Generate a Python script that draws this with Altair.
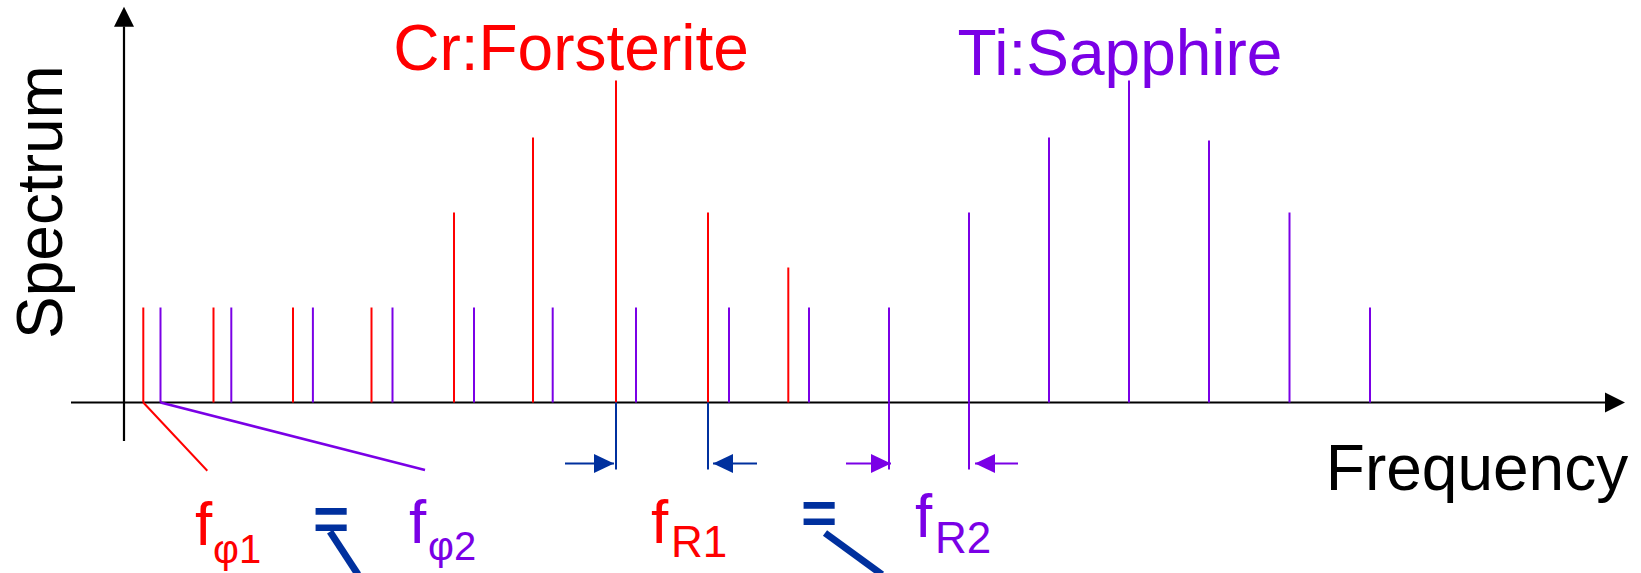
import altair as alt
import pandas as pd

RED = "#ff0000"
PURPLE = "#7a00e6"
BLUE = "#00309e"
BLACK = "#000000"
FONT = "Liberation Sans"

# ---- spectral comb lines (frequency position, line height) ----
cr_freq = [143.3, 213.5, 293.0, 371.5, 454.0, 533.0, 616.0, 708.0, 788.3]
cr_amp = [95, 95, 95, 95, 190, 265, 322, 190, 135]
ti_freq = [160.5, 231.3, 312.9, 392.5, 474.0, 552.7, 636.0, 729.0, 809.0,
           889.0, 969.0, 1049.0, 1129.0, 1209.0, 1289.5, 1370.0]
ti_amp = [95, 95, 95, 95, 95, 95, 95, 95, 95, 95, 190, 265, 322, 262, 190, 95]

# ---- markers below the axis (repetition-rate spacing) ----
marker_freq = [616.0, 708.0, 889.0, 969.0]
marker_color = [BLUE, BLUE, PURPLE, PURPLE]
marker_depth = -67

# ---- spacing arrows ----
arrow_start = [565.0, 757.0, 846.0, 1018.0]
arrow_tip = [614.0, 713.0, 891.0, 975.0]
arrow_dir = [1, -1, 1, -1]
arrow_color = [BLUE, BLUE, PURPLE, PURPLE]
arrow_level = -61

# ---- offset-frequency leader lines ----
leader_x = [143.3, 160.5]
leader_x2 = [207.3, 425.0]
leader_y2 = [-68.2, -67.5]
leader_color = [RED, PURPLE]
leader_width = [2.0, 2.5]

# ---- slash strokes under the equal signs ----
slash_x = [330.0, 825.0]
slash_x2 = [358.0, 882.0]
slash_y = [-129.2, -130.5]
slash_y2 = [-172.0, -172.0]

# ---- axes ----
x_axis = {"start": 71.0, "end": 1606.0, "head": 1615.0}
y_axis = {"pos": 124.0, "bottom": -38.5, "top": 376.0, "head": 385.8}

# ---- text labels ----
label_text = ["Cr:Forsterite", "Ti:Sapphire", "Frequency", "Spectrum",
              "f", "φ1", "f", "φ2", "f", "R1", "f", "R2", "=", "="]
label_x = [571, 1120, 1477, 62, 195, 213, 409, 428, 651, 671, 915, 935, 331, 819]
label_y = [332.5, 327.5, -87.5, 200.5, -142.5, -160.5, -140.5, -157.5,
           -140.5, -154.5, -134.5, -150.5, -137.5, -131.5]
label_color = [RED, PURPLE, BLACK, BLACK, RED, RED, PURPLE, PURPLE, RED, RED,
               PURPLE, PURPLE, BLUE, BLUE]
label_size = [64, 64, 64, 64, 62, 40, 62, 40, 62, 44, 62, 44, 62, 62]
label_align = ["center", "center", "center", "center", "left", "left", "left",
               "left", "left", "left", "left", "left", "center", "center"]
label_angle = [0, 0, 0, 270, 0, 0, 0, 0, 0, 0, 0, 0, 0, 0]
label_weight = ["normal"] * 12 + ["bold", "bold"]

XS = alt.Scale(domain=[0, 1641], nice=False, zero=False)
YS = alt.Scale(domain=[-170.5, 402.5], nice=False, zero=False)


def X(f="x"):
    return alt.X(f"{f}:Q", scale=XS, axis=None)


def Y(f="y"):
    return alt.Y(f"{f}:Q", scale=YS, axis=None)


layers = []

# axes lines
axes_df = pd.DataFrame({
    "x": [x_axis["start"], y_axis["pos"]],
    "x2": [x_axis["end"], y_axis["pos"]],
    "y": [0.0, y_axis["bottom"]],
    "y2": [0.0, y_axis["top"]],
})
layers.append(alt.Chart(axes_df).mark_rule(color=BLACK, strokeWidth=2.2).encode(
    x=X(), x2="x2:Q", y=Y(), y2="y2:Q"))

heads_df = pd.DataFrame({"x": [x_axis["head"], y_axis["pos"]], "y": [0.0, y_axis["head"]],
                         "s": ["right", "up"]})
layers.append(alt.Chart(heads_df[heads_df.s == "right"]).mark_point(
    shape="M1,0L-1,-1L-1,1Z", size=400, filled=True, color=BLACK, opacity=1, strokeWidth=0
).encode(x=X(), y=Y()))
layers.append(alt.Chart(heads_df[heads_df.s == "up"]).mark_point(
    shape="M0,-1L-1,1L1,1Z", size=400, filled=True, color=BLACK, opacity=1, strokeWidth=0
).encode(x=X(), y=Y()))

# comb lines
cr_df = pd.DataFrame({"x": cr_freq, "y": [0.0] * len(cr_freq), "y2": cr_amp})
ti_df = pd.DataFrame({"x": ti_freq, "y": [0.0] * len(ti_freq), "y2": ti_amp})
layers.append(alt.Chart(cr_df).mark_rule(color=RED, strokeWidth=2).encode(
    x=X(), y=Y(), y2="y2:Q"))
layers.append(alt.Chart(ti_df).mark_rule(color=PURPLE, strokeWidth=2).encode(
    x=X(), y=Y(), y2="y2:Q"))

# markers below axis
mk_df = pd.DataFrame({"x": marker_freq, "y": [0.0] * 4, "y2": [marker_depth] * 4,
                      "c": marker_color})
layers.append(alt.Chart(mk_df).mark_rule(strokeWidth=2).encode(
    x=X(), y=Y(), y2="y2:Q", color=alt.Color("c:N", scale=None)))

# arrows
ar_df = pd.DataFrame({"x": arrow_start, "x2": arrow_tip, "d": arrow_dir, "c": arrow_color})
ar_df["y"] = arrow_level
ar_df["hx"] = ar_df["x2"] - 10 * ar_df["d"]
layers.append(alt.Chart(ar_df).mark_rule(strokeWidth=2).encode(
    x=X(), x2="x2:Q", y=Y(), color=alt.Color("c:N", scale=None)))
layers.append(alt.Chart(ar_df[ar_df.d == 1]).mark_point(
    shape="M1,0L-1,-0.95L-1,0.95Z", size=400, filled=True, opacity=1, strokeWidth=0
).encode(x=X("hx"), y=Y(), color=alt.Color("c:N", scale=None)))
layers.append(alt.Chart(ar_df[ar_df.d == -1]).mark_point(
    shape="M-1,0L1,-0.95L1,0.95Z", size=400, filled=True, opacity=1, strokeWidth=0
).encode(x=X("hx"), y=Y(), color=alt.Color("c:N", scale=None)))

# leader lines
ld_df = pd.DataFrame({"x": leader_x, "x2": leader_x2, "y": [0.0, 0.0], "y2": leader_y2,
                      "c": leader_color, "w": leader_width})
layers.append(alt.Chart(ld_df).mark_rule().encode(
    x=X(), x2="x2:Q", y=Y(), y2="y2:Q", color=alt.Color("c:N", scale=None),
    strokeWidth=alt.StrokeWidth("w:Q", scale=None)))

# slashes
sl_df = pd.DataFrame({"x": slash_x, "x2": slash_x2, "y": slash_y, "y2": slash_y2})
layers.append(alt.Chart(sl_df).mark_rule(color=BLUE, strokeWidth=7).encode(
    x=X(), x2="x2:Q", y=Y(), y2="y2:Q"))

# labels
for i, t in enumerate(label_text):
    df = pd.DataFrame({"x": [label_x[i]], "y": [label_y[i]], "t": [t]})
    layers.append(alt.Chart(df).mark_text(
        align=label_align[i], baseline="alphabetic", font=FONT,
        fontSize=label_size[i], color=label_color[i], angle=label_angle[i],
        fontWeight=label_weight[i]
    ).encode(x=X(), y=Y(), text="t:N"))

chart = alt.layer(*layers).properties(
    width=1641, height=573, autosize="none", padding=0, background="white"
).configure_view(stroke=None)

chart.save("out.html", embed_options={"renderer": "svg", "actions": False})
